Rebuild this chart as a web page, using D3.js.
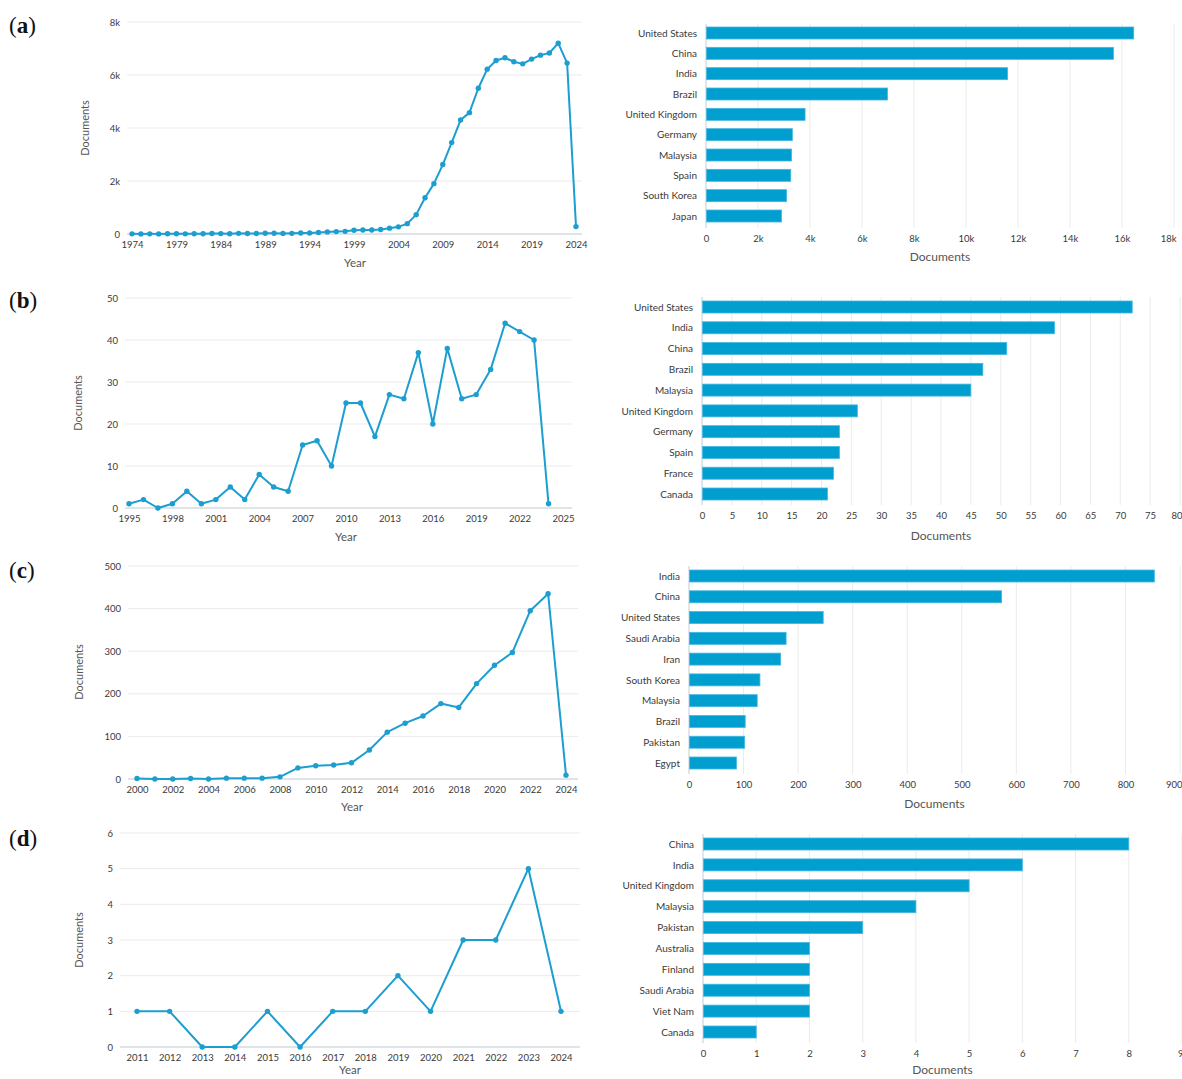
<!DOCTYPE html>
<html>
<head>
<meta charset="utf-8">
<script src="https://cdn.jsdelivr.net/npm/d3@7"></script>
<style>
  body { margin: 0; background: #fff; }
  svg text { font-family: Lato, "Open Sans", "Noto Sans", sans-serif; }
  .panel-tag { font-family: "Liberation Serif", "DejaVu Serif", serif; font-size: 23px; fill: #111; }
</style>
</head>
<body>
<svg id="chart" width="1182" height="1079"></svg>
<script>
// ---- (a) documents per year, 1974-2024 ----
const yearsA = [1974,1975,1976,1977,1978,1979,1980,1981,1982,1983,1984,1985,1986,1987,1988,1989,1990,1991,1992,1993,1994,1995,1996,1997,1998,1999,2000,2001,2002,2003,2004,2005,2006,2007,2008,2009,2010,2011,2012,2013,2014,2015,2016,2017,2018,2019,2020,2021,2022,2023,2024];
const docsA  = [5,3,6,4,7,8,6,10,9,20,15,12,25,18,20,28,30,22,25,35,40,60,80,90,100,140,150,150,170,220,270,390,730,1370,1900,2620,3450,4300,4580,5500,6220,6550,6650,6500,6420,6600,6750,6830,7200,6450,280];
const yTicksA = [0,2000,4000,6000,8000];
const yTickLabelsA = ["0","2k","4k","6k","8k"];
const xTicksA = [1974,1979,1984,1989,1994,1999,2004,2009,2014,2019,2024];

const countriesA = ["United States","China","India","Brazil","United Kingdom","Germany","Malaysia","Spain","South Korea","Japan"];
const countryDocsA = [16450,15670,11600,6980,3810,3320,3290,3260,3100,2900];
const barTicksA = [0,2000,4000,6000,8000,10000,12000,14000,16000,18000];
const barTickLabelsA = ["0","2k","4k","6k","8k","10k","12k","14k","16k","18k"];

// ---- (b) ----
const yearsB = [1995,1996,1997,1998,1999,2000,2001,2002,2003,2004,2005,2006,2007,2008,2009,2010,2011,2012,2013,2014,2015,2016,2017,2018,2019,2020,2021,2022,2023,2024];
const docsB  = [1,2,0,1,4,1,2,5,2,8,5,4,15,16,10,25,25,17,27,26,37,20,38,26,27,33,44,42,40,1];
const yTicksB = [0,10,20,30,40,50];
const yTickLabelsB = ["0","10","20","30","40","50"];
const xTicksB = [1995,1998,2001,2004,2007,2010,2013,2016,2019,2022,2025];

const countriesB = ["United States","India","China","Brazil","Malaysia","United Kingdom","Germany","Spain","France","Canada"];
const countryDocsB = [72,59,51,47,45,26,23,23,22,21];
const barTicksB = [0,5,10,15,20,25,30,35,40,45,50,55,60,65,70,75,80];
const barTickLabelsB = ["0","5","10","15","20","25","30","35","40","45","50","55","60","65","70","75","80"];

// ---- (c) ----
const yearsC = [2000,2001,2002,2003,2004,2005,2006,2007,2008,2009,2010,2011,2012,2013,2014,2015,2016,2017,2018,2019,2020,2021,2022,2023,2024];
const docsC  = [1,0,0,1,0,2,2,2,5,26,31,33,38,68,110,131,148,177,168,224,267,297,395,435,9];
const yTicksC = [0,100,200,300,400,500];
const yTickLabelsC = ["0","100","200","300","400","500"];
const xTicksC = [2000,2002,2004,2006,2008,2010,2012,2014,2016,2018,2020,2022,2024];

const countriesC = ["India","China","United States","Saudi Arabia","Iran","South Korea","Malaysia","Brazil","Pakistan","Egypt"];
const countryDocsC = [853,573,246,178,168,130,125,103,102,87];
const barTicksC = [0,100,200,300,400,500,600,700,800,900];
const barTickLabelsC = ["0","100","200","300","400","500","600","700","800","900"];

// ---- (d) ----
const yearsD = [2011,2012,2013,2014,2015,2016,2017,2018,2019,2020,2021,2022,2023,2024];
const docsD  = [1,1,0,0,1,0,1,1,2,1,3,3,5,1];
const yTicksD = [0,1,2,3,4,5,6];
const yTickLabelsD = ["0","1","2","3","4","5","6"];
const xTicksD = [2011,2012,2013,2014,2015,2016,2017,2018,2019,2020,2021,2022,2023,2024];

const countriesD = ["China","India","United Kingdom","Malaysia","Pakistan","Australia","Finland","Saudi Arabia","Viet Nam","Canada"];
const countryDocsD = [8,6,5,4,3,2,2,2,2,1];
const barTicksD = [0,1,2,3,4,5,6,7,8,9];
const barTickLabelsD = ["0","1","2","3","4","5","6","7","8","9"];

const panelTags = ["a","b","c","d"];

// ---- styling ----
const LINE_COLOR = "#1c9ed0";
const BAR_FILL = "#009fd0";
const BAR_EDGE = "#45b6e0";
const GRID = "#ebebeb";
const TEXT = "#3a3a3a";

const svg = d3.select("#chart");

function lineChart(years, values, yTicks, yLabels, xTicks, geo) {
  const g = svg.append("g");
  const x = d3.scaleLinear().domain(geo.xDomain).range([geo.xl, geo.xr]);
  const y = d3.scaleLinear().domain([0, geo.yMax]).range([geo.yb, geo.yt]);

  // horizontal gridlines
  g.append("g").selectAll("line").data(yTicks).join("line")
    .attr("x1", geo.gl).attr("x2", geo.gr)
    .attr("y1", d => y(d)).attr("y2", d => y(d))
    .attr("stroke", (d) => d === 0 ? "#d4dbe2" : GRID)
    .attr("stroke-width", d => d === 0 ? 1.4 : 1);

  // y axis labels
  const ya = g.append("g").attr("transform", `translate(${geo.gl},0)`)
    .call(d3.axisLeft(y).tickValues(yTicks).tickFormat((d, i) => yLabels[i]).tickSize(0).tickPadding(7));
  ya.select(".domain").remove();
  ya.selectAll("text").attr("fill", TEXT).style("font-size", "9.5px");

  // x axis labels
  const xa = g.append("g").attr("transform", `translate(0,${geo.yb})`)
    .call(d3.axisBottom(x).tickValues(xTicks).tickFormat(d3.format("d")).tickSize(0).tickPadding(7));
  xa.select(".domain").remove();
  xa.selectAll("text").attr("fill", TEXT).style("font-size", "9.5px");

  // series
  const pts = years.map((yr, i) => [yr, values[i]]);
  g.append("path").datum(pts)
    .attr("fill", "none").attr("stroke", LINE_COLOR).attr("stroke-width", 2)
    .attr("stroke-linejoin", "round")
    .attr("d", d3.line().x(d => x(d[0])).y(d => y(d[1])));
  g.append("g").selectAll("circle").data(pts).join("circle")
    .attr("cx", d => x(d[0])).attr("cy", d => y(d[1])).attr("r", 2.7)
    .attr("fill", LINE_COLOR);

  // titles
  g.append("text").attr("x", geo.yTitleX).attr("y", geo.yTitleY)
    .attr("transform", `rotate(-90,${geo.yTitleX},${geo.yTitleY})`)
    .attr("text-anchor", "middle").attr("dominant-baseline", "middle")
    .attr("fill", "#555").style("font-size", "11px").text("Documents");
  g.append("text").attr("x", geo.xTitleX).attr("y", geo.xTitleY)
    .attr("text-anchor", "middle").attr("dominant-baseline", "middle")
    .attr("fill", "#555").style("font-size", "11.5px").text("Year");
}

function barChart(countries, values, ticks, labels, geo) {
  const g = svg.append("g");
  const x = d3.scaleLinear().domain([0, ticks[ticks.length - 1]]).range([geo.x0, geo.x1]);
  const y = d3.scalePoint().domain(countries).range([geo.c0, geo.c1]);
  const bh = 12;

  // vertical gridlines
  g.append("g").selectAll("line").data(ticks.slice(1)).join("line")
    .attr("x1", d => x(d)).attr("x2", d => x(d))
    .attr("y1", geo.gt).attr("y2", geo.gb)
    .attr("stroke", GRID).attr("stroke-width", 1);

  // category axis line
  g.append("line").attr("x1", geo.x0).attr("x2", geo.x0)
    .attr("y1", geo.gt).attr("y2", geo.gb)
    .attr("stroke", "#ccd5de").attr("stroke-width", 1.2);

  // bars
  g.append("g").selectAll("rect").data(countries).join("rect")
    .attr("x", x(0) + 0.5).attr("y", d => y(d) - bh / 2)
    .attr("width", (d, i) => x(values[i]) - x(0) - 0.5).attr("height", bh)
    .attr("fill", BAR_FILL).attr("stroke", BAR_EDGE).attr("stroke-width", 0.8);

  // category labels
  const ya = g.append("g").attr("transform", `translate(${geo.x0},0)`)
    .call(d3.axisLeft(y).tickSize(0).tickPadding(9));
  ya.select(".domain").remove();
  ya.selectAll("text").attr("fill", TEXT).style("font-size", "10px");

  // value axis labels
  const xa = g.append("g").attr("transform", `translate(0,${geo.gb})`)
    .call(d3.axisBottom(x).tickValues(ticks).tickFormat((d, i) => labels[i]).tickSize(0).tickPadding(geo.tickPad));
  xa.select(".domain").remove();
  xa.selectAll("text").attr("fill", TEXT).style("font-size", "9.5px");
  // keep the last value label inside the right edge
  xa.selectAll("text").filter((d, i) => i === ticks.length - 1)
    .attr("text-anchor", "end").attr("dx", geo.lastDx);

  g.append("text").attr("x", (geo.x0 + geo.x1) / 2).attr("y", geo.titleY)
    .attr("text-anchor", "middle").attr("dominant-baseline", "middle")
    .attr("fill", "#555").style("font-size", "12px").text("Documents");
}

// panel (a)
lineChart(yearsA, docsA, yTicksA, yTickLabelsA, xTicksA,
  { xDomain: [1974, 2024], xl: 132, xr: 576, yMax: 8000, yb: 234, yt: 22, gl: 127, gr: 582,
    yTitleX: 86, yTitleY: 128, xTitleX: 355, xTitleY: 264 });
barChart(countriesA, countryDocsA, barTicksA, barTickLabelsA,
  { x0: 706, x1: 1174, c0: 33, c1: 216, gt: 24, gb: 228, tickPad: 7, titleY: 258, lastDx: 2 });

// panel (b)
lineChart(yearsB, docsB, yTicksB, yTickLabelsB, xTicksB,
  { xDomain: [1995, 2025], xl: 129, xr: 563, yMax: 50, yb: 508, yt: 298, gl: 125, gr: 572,
    yTitleX: 79, yTitleY: 403, xTitleX: 346, xTitleY: 538 });
barChart(countriesB, countryDocsB, barTicksB, barTickLabelsB,
  { x0: 702, x1: 1180, c0: 307, c1: 494, gt: 297, gb: 505, tickPad: 7, titleY: 537, lastDx: 2 });

// panel (c)
lineChart(yearsC, docsC, yTicksC, yTickLabelsC, xTicksC,
  { xDomain: [2000, 2024], xl: 137, xr: 566, yMax: 500, yb: 779, yt: 566, gl: 128, gr: 578,
    yTitleX: 80, yTitleY: 672, xTitleX: 352, xTitleY: 808 });
barChart(countriesC, countryDocsC, barTicksC, barTickLabelsC,
  { x0: 689, x1: 1180, c0: 576, c1: 763, gt: 566, gb: 774, tickPad: 7, titleY: 805, lastDx: 2 });

// panel (d)
lineChart(yearsD, docsD, yTicksD, yTickLabelsD, xTicksD,
  { xDomain: [2011, 2024], xl: 137, xr: 561, yMax: 6, yb: 1047, yt: 833, gl: 120, gr: 580,
    yTitleX: 80, yTitleY: 940, xTitleX: 350, xTitleY: 1071 });
barChart(countriesD, countryDocsD, barTicksD, barTickLabelsD,
  { x0: 703, x1: 1182, c0: 844, c1: 1032, gt: 834, gb: 1043, tickPad: 7, titleY: 1071, lastDx: 1 });

// panel tags
const tagY = [33, 308, 578, 846];
panelTags.forEach((t, i) => {
  const txt = svg.append("text").attr("class", "panel-tag").attr("x", 9).attr("y", tagY[i]);
  txt.append("tspan").text("(");
  txt.append("tspan").attr("font-weight", "bold").text(t);
  txt.append("tspan").text(")");
});
</script>
</body>
</html>
